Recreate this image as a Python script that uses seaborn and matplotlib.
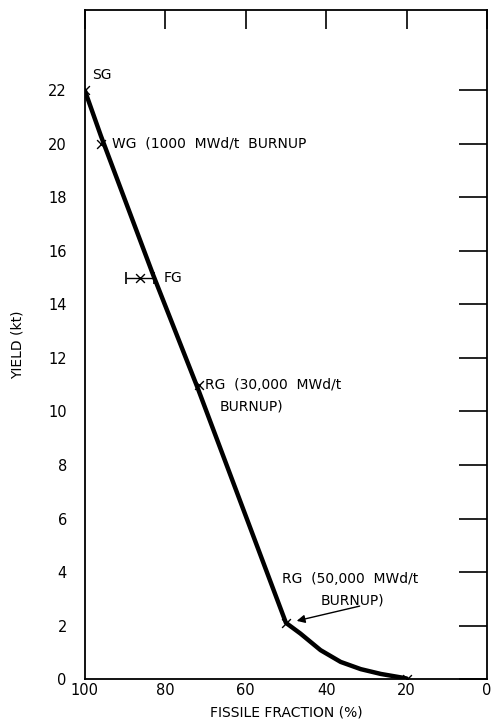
import numpy as np
import pandas as pd
import seaborn as sns
import matplotlib.pyplot as plt

# curve
curve_x = [100, 96, 83, 72, 50, 46.4, 41.4, 36.4, 31.4, 26.4, 21.4, 20]
curve_y = [22.0, 20.3, 15.1, 10.9, 2.1, 1.7, 1.08, 0.64, 0.37, 0.19, 0.06, 0.02]

# marked fuel grades
mark_x = [100, 96, 86.3, 71.5, 50, 20]
mark_y = [22, 20, 15, 11, 2.1, 0]
fg_err = 3.4

x_ticks = [100, 80, 60, 40, 20, 0]
y_ticks = [0, 2, 4, 6, 8, 10, 12, 14, 16, 18, 20, 22]

sns.set_style("white")
plt.rcParams['font.family'] = ['DejaVu Sans']
plt.rcParams['text.color'] = 'black'
plt.rcParams['axes.labelcolor'] = 'black'
plt.rcParams['xtick.color'] = 'black'
plt.rcParams['ytick.color'] = 'black'

fig = plt.figure(figsize=(4.96, 7.25), dpi=100)
ax = fig.add_axes([0.171, 0.0634, 0.811, 0.9226])

df_c = pd.DataFrame({"x": curve_x, "y": curve_y})
sns.lineplot(data=df_c, x="x", y="y", ax=ax, color="black", lw=3.2, sort=False,
             solid_joinstyle="round", solid_capstyle="round")

df_m = pd.DataFrame({"x": mark_x, "y": mark_y})
sns.scatterplot(data=df_m, x="x", y="y", ax=ax, marker="x", color="black",
                s=40, linewidth=1.0, zorder=5)
ax.errorbar(mark_x[2], mark_y[2], xerr=fg_err, fmt="none", ecolor="black",
            elinewidth=1.0, capsize=4, capthick=1.2)

ax.set_xlim(100, 0)
ax.set_ylim(0, 25)
ax.set_xticks(x_ticks)
ax.set_yticks(y_ticks)
ax.tick_params(axis="both", direction="in", top=True, right=True,
               labeltop=False, labelright=False, labelsize=10.5, width=1.2)
ax.tick_params(axis="y", length=20, pad=13)
ax.tick_params(axis="x", length=14, pad=3)
for s in ax.spines.values():
    s.set_linewidth(1.3)
    s.set_color("black")

ax.set_xlabel("FISSILE FRACTION (%)", fontsize=10, labelpad=5)
ax.set_ylabel("YIELD (kt)", fontsize=10, labelpad=17)

fs = 10
ax.text(98.3, 22.3, "SG", fontsize=fs, ha="left", va="bottom")
ax.text(93.3, 20, "WG  (1000  MWd/t  BURNUP", fontsize=fs, ha="left", va="center")
ax.text(80.5, 15, "FG", fontsize=fs, ha="left", va="center")
ax.text(70, 11, "RG  (30,000  MWd/t", fontsize=fs, ha="left", va="center")
ax.text(66.5, 10.2, "BURNUP)", fontsize=fs, ha="left", va="center")
ax.text(51, 3.75, "RG  (50,000  MWd/t", fontsize=fs, ha="left", va="center")
ax.text(41.5, 2.95, "BURNUP)", fontsize=fs, ha="left", va="center")
ax.annotate("", xy=(48, 2.15), xytext=(31, 2.75),
            arrowprops=dict(arrowstyle="-|>", color="black", lw=1.0,
                            mutation_scale=12))

fig.savefig("out.png", dpi=100)
